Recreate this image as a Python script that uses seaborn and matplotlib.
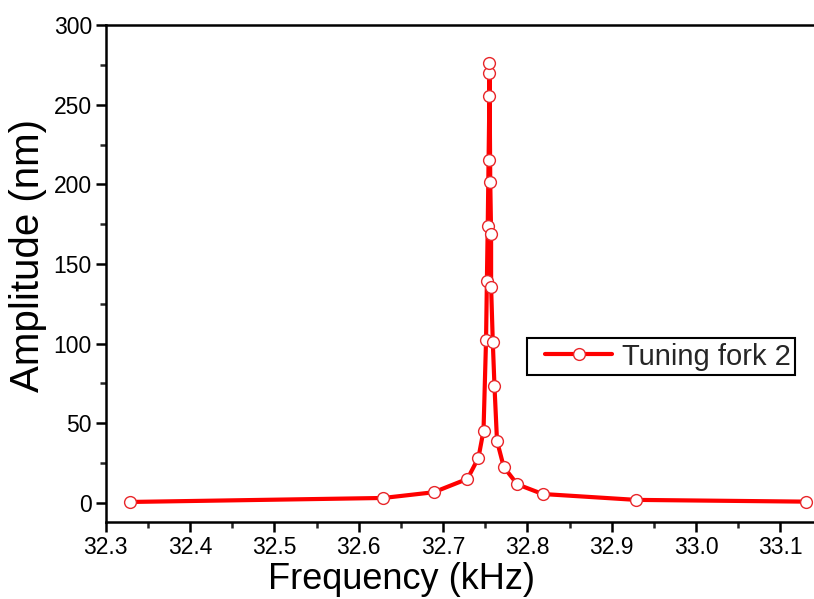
import matplotlib
matplotlib.use("Agg")
import matplotlib.pyplot as plt
import seaborn as sns
import pandas as pd
from matplotlib.ticker import MultipleLocator
from matplotlib.legend_handler import HandlerLine2D
from matplotlib.lines import Line2D

# Data (frequency in kHz, amplitude in nm), in drawing order
frequency = [32.329, 32.629, 32.689, 32.729, 32.742, 32.748, 32.751, 32.752,
             32.753, 32.754, 32.755, 32.755, 32.755, 32.756, 32.757, 32.757,
             32.759, 32.761, 32.764, 32.772, 32.788, 32.818, 32.929, 33.130]
amplitude = [0.6, 3.1, 6.7, 15.1, 28.4, 45.4, 102.3, 139.5,
             174.1, 215.3, 255.7, 269.8, 276.4, 201.5, 168.9, 135.7,
             101.1, 73.4, 38.9, 22.6, 11.7, 5.6, 1.9, 0.8]
series_label = "Tuning fork 2"
x_ticks = [32.3, 32.4, 32.5, 32.6, 32.7, 32.8, 32.9, 33.0, 33.1]
y_ticks = [0, 50, 100, 150, 200, 250, 300]

df = pd.DataFrame({"Frequency": frequency, "Amplitude": amplitude})

sns.set_theme(style="ticks")
plt.rcParams["font.family"] = ["Liberation Sans", "DejaVu Sans"]

fig = plt.figure(figsize=(8.14, 5.99), dpi=100)
ax = fig.add_axes([0.13, 0.1285, 0.87, 0.8297])

sns.lineplot(data=df, x="Frequency", y="Amplitude", sort=False, estimator=None,
             errorbar=None, ax=ax,
             color="#ff0000", linewidth=3.0, marker="o", markersize=8.5,
             markerfacecolor="white", markeredgecolor="#e8262a",
             markeredgewidth=1.0, label=series_label)

ax.set_xlim(32.3, 33.140)
ax.set_ylim(-12, 300)
ax.set_xticks(x_ticks)
ax.set_xticklabels([f"{t:.1f}" for t in x_ticks])
ax.set_yticks(y_ticks)
ax.xaxis.set_minor_locator(MultipleLocator(0.05))
ax.yaxis.set_minor_locator(MultipleLocator(25))

for side in ["left", "bottom", "top"]:
    ax.spines[side].set_linewidth(1.8)
    ax.spines[side].set_color("black")
ax.spines["right"].set_visible(False)

ax.tick_params(axis="both", which="major", direction="out", length=7, width=1.8,
               labelsize=16.5, colors="black", pad=3)
ax.tick_params(axis="both", which="minor", direction="out", length=4, width=1.8)
ax.tick_params(top=False, right=False)

ax.set_xlabel("Frequency (kHz)", fontsize=26, color="black")
ax.set_ylabel("Amplitude (nm)", fontsize=29, color="black")
ax.xaxis.set_label_coords(0.418, -0.080)
ax.yaxis.set_label_coords(-0.083, 0.537)

leg = ax.legend(loc="upper left", bbox_to_anchor=(0.595, 0.370), borderaxespad=0,
                fontsize=21, frameon=True, fancybox=False, handlelength=2.76,
                handletextpad=0.34, borderpad=0.15,
                handler_map={Line2D: HandlerLine2D(xpad=0.46)})
leg.get_frame().set_edgecolor("black")
leg.get_frame().set_linewidth(1.5)
leg.get_frame().set_alpha(1)

fig.savefig("out.png", dpi=100)
